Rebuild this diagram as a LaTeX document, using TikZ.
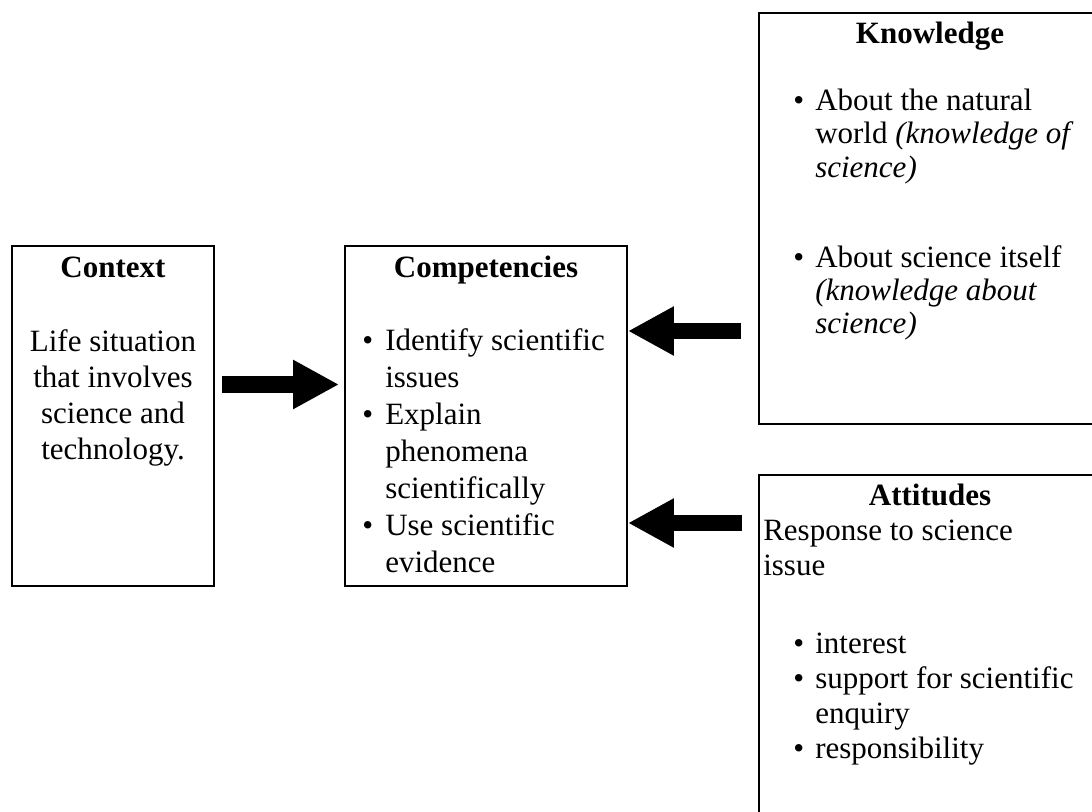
\documentclass[tikz,border=0pt]{standalone}
\usepackage{fontspec}
\setmainfont{Liberation Serif}
\usetikzlibrary{arrows.meta}
\begin{document}
\begin{tikzpicture}[x=0.75pt,y=-0.75pt,
  box/.style={draw, line width=1.4pt, inner sep=0pt},
  txt/.style={inner sep=0pt, font=\fontsize{23.25pt}{27pt}\selectfont, anchor=base west},
  ctr/.style={txt, anchor=base},
  ttl/.style={ctr, font=\fontsize{23.25pt}{27pt}\selectfont\bfseries},
  bigarrow/.style={line width=12.5pt, -{Triangle[length=34.5pt,width=34.5pt]}}]
\useasboundingbox (0,0) rectangle (1092,811);
\clip (0,0) rectangle (1092,811);
% boxes
\node[box, minimum width=151.5pt, minimum height=255pt] (ctx) at (113,416) {};
\node[box, minimum width=211.5pt, minimum height=255pt] (comp) at (486,416) {};
\node[box, minimum width=255.75pt, minimum height=308.25pt] (know) at (929.5,218.5) {};
\node[box, minimum width=255.75pt, minimum height=266.25pt] (att) at (929.5,652.5) {};
% context
\node[ttl] (ctxt) at (113,277) {Context};
\node[ctr] (c1) at (113,351) {Life situation};
\node[ctr] (c2) at (113,387) {that involves};
\node[ctr] (c3) at (113,423) {science and};
\node[ctr] (c4) at (113,459) {technology.};
% competencies
\node[ttl] (compt) at (486,277) {Competencies};
\node[txt] (pb1) at (362,350) {\textbullet};
\node[txt] (p1) at (385,350) {Identify scientific};
\node[txt] (p2) at (385,387) {issues};
\node[txt] (pb2) at (362,424) {\textbullet};
\node[txt] (p3) at (385,424) {Explain};
\node[txt] (p4) at (385,461) {phenomena};
\node[txt] (p5) at (385,498) {scientifically};
\node[txt] (pb3) at (362,535) {\textbullet};
\node[txt] (p6) at (385,535) {Use scientific};
\node[txt] (p7) at (385,572) {evidence};
% knowledge
\node[ttl] (knowt) at (930,43) {Knowledge};
\node[txt] (kb1) at (793,110) {\textbullet};
\node[txt] (k1) at (815,110) {About the natural};
\node[txt] (k2) at (815,143.5) {world \textit{(knowledge of}};
\node[txt] (k3) at (815,177) {\textit{science)}};
\node[txt] (kb2) at (793,267) {\textbullet};
\node[txt] (k4) at (815,267) {About science itself};
\node[txt] (k5) at (815,300) {\textit{(knowledge about}};
\node[txt] (k6) at (815,333) {\textit{science)}};
% attitudes
\node[ttl] (attt) at (930,505) {Attitudes};
\node[txt] (t1) at (763,540) {Response to science};
\node[txt] (t2) at (763,575) {issue};
\node[txt] (tb1) at (793,653) {\textbullet};
\node[txt] (t3) at (815,653) {interest};
\node[txt] (tb2) at (793,688) {\textbullet};
\node[txt] (t4) at (815,688) {support for scientific};
\node[txt] (t5) at (815,723) {enquiry};
\node[txt] (tb3) at (793,758) {\textbullet};
\node[txt] (t6) at (815,758) {responsibility};
% arrows
\coordinate (cy) at (300,384.5);
\coordinate (ky) at (700,331);
\coordinate (ay) at (700,523);
\draw[bigarrow, shorten <=5.25pt, shorten >=3.75pt] (ctx.east |- cy) -- (comp.west |- cy);
\draw[bigarrow, shorten <=12.75pt] (know.west |- ky) -- (comp.east |- ky);
\draw[bigarrow, shorten <=12pt] (att.west |- ay) -- (comp.east |- ay);
\end{tikzpicture}
\end{document}
